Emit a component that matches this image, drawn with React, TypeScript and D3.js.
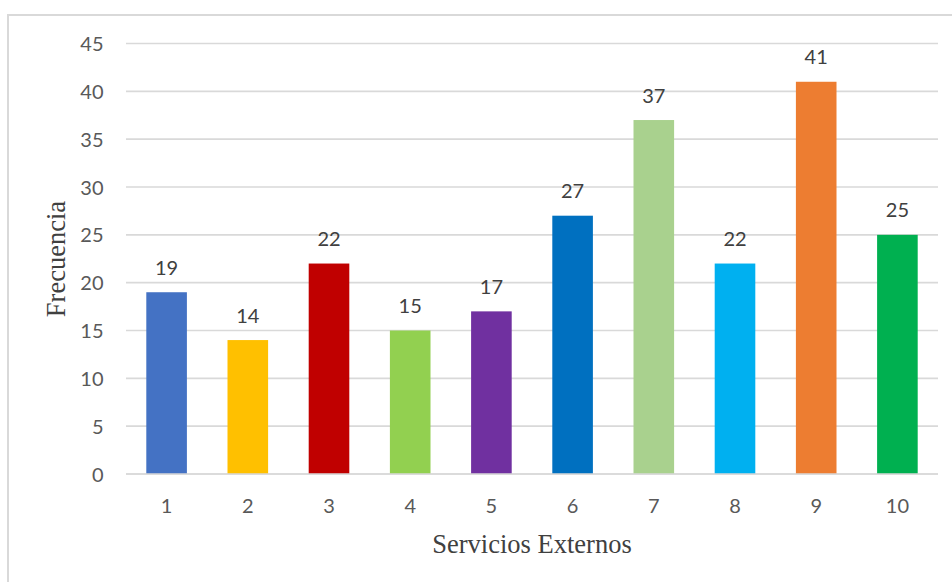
import React from "react";
import * as d3 from "d3";

const categories: string[] = ["1", "2", "3", "4", "5", "6", "7", "8", "9", "10"];
const frecuencias: number[] = [19, 14, 22, 15, 17, 27, 37, 22, 41, 25];
const barColors: string[] = [
  "#4472C4", "#FFC000", "#C00000", "#92D050", "#7030A0",
  "#0070C0", "#A9D18E", "#00B0F0", "#ED7D31", "#00B050",
];
const yTicks: number[] = [0, 5, 10, 15, 20, 25, 30, 35, 40, 45];

const W = 952;
const H = 582;
const plot = { left: 126, right: 938, top: 43.5, bottom: 474 };
const sans = "Lato, 'Open Sans', 'Noto Sans', sans-serif";
const serif = "'Liberation Serif', 'Times New Roman', serif";

export default function App() {
  const x = d3.scaleBand<string>().domain(categories).range([plot.left, plot.right]).paddingInner(0.5).paddingOuter(0.25);
  const y = d3.scaleLinear().domain([0, 45]).range([plot.bottom, plot.top]);

  return (
    <svg width={W} height={H} style={{ position: "absolute", left: 0, top: 0, background: "#fff" }}>
      <rect x={8} y={15} width={W + 10} height={H + 10} fill="#fff" stroke="#d9d9d9" strokeWidth={2} />
      {yTicks.map((t) => (
        <g key={t}>
          <line x1={plot.left} x2={plot.right} y1={y(t)} y2={y(t)} stroke="#d9d9d9" strokeWidth={1.6} />
          <text x={103.5} y={y(t) + 7.5} textAnchor="end" fontFamily={sans} fontSize={20} fill="#595959">{t}</text>
        </g>
      ))}
      {categories.map((c, i) => (
        <g key={c}>
          <rect x={x(c)} y={y(frecuencias[i])} width={x.bandwidth()} height={y(0) - y(frecuencias[i])} fill={barColors[i]} />
          <text x={(x(c) as number) + x.bandwidth() / 2} y={y(frecuencias[i]) - 17.5} textAnchor="middle" fontFamily={sans} fontSize={20} fill="#404040">{frecuencias[i]}</text>
          <text x={(x(c) as number) + x.bandwidth() / 2} y={513} textAnchor="middle" fontFamily={sans} fontSize={20} fill="#595959">{c}</text>
        </g>
      ))}
      <line x1={plot.left} x2={plot.right} y1={y(0)} y2={y(0)} stroke="#d9d9d9" strokeWidth={1.6} />
      <text x={(plot.left + plot.right) / 2} y={553} textAnchor="middle" fontFamily={serif} fontSize={26.5} fill="#404040">Servicios Externos</text>
      <text transform={`translate(65, 259) rotate(-90)`} textAnchor="middle" fontFamily={serif} fontSize={26.5} fill="#404040">Frecuencia</text>
    </svg>
  );
}
